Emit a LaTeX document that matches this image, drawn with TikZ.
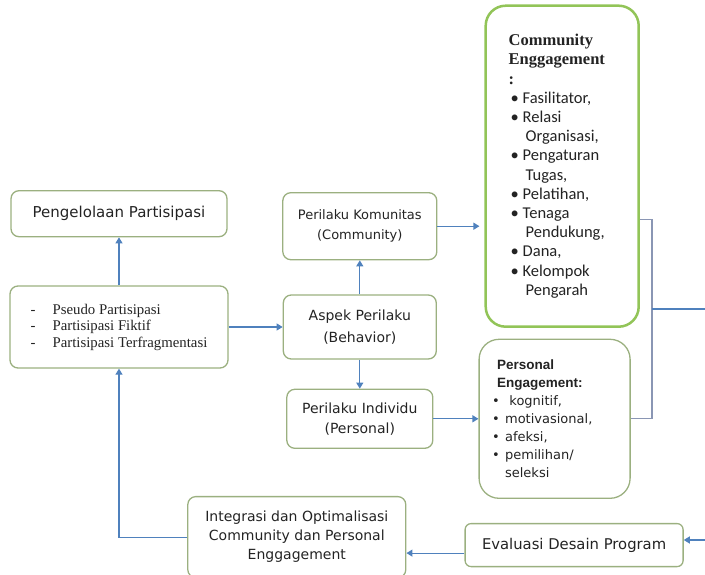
\documentclass[tikz,border=0pt]{standalone}
\usepackage{fontspec}
\setmainfont{DejaVu Sans}
\newfontfamily\serifface{Liberation Serif}
\newfontfamily\listface{Carlito}
\newfontfamily\boldsans{Liberation Sans}
\usepackage{xcolor}
\usetikzlibrary{positioning,arrows.meta}

\definecolor{boxline}{RGB}{155,176,128}
\definecolor{greenline}{RGB}{146,196,88}
\definecolor{arrowblue}{RGB}{79,129,189}
\definecolor{bracketgray}{RGB}{138,150,180}
\definecolor{textgray}{RGB}{35,35,35}

\newcommand{\dash}{\makebox[22pt][l]{-}}
\newcommand{\cbul}{\hspace*{2pt}\makebox[12pt][l]{\textbullet}}
\newcommand{\ccont}{\hspace*{17pt}}
\newcommand{\pbul}{\makebox[13pt][l]{\textbullet}}
\newcommand{\ctitle}[1]{{\serifface\bfseries\fontsize{16.5}{19.2}\selectfont #1}}
\newcommand{\ptitle}[1]{{\boldsans\bfseries\fontsize{13.5}{18}\selectfont #1}}

\begin{document}
\begin{tikzpicture}[
    x=1pt, y=-1pt,
    node distance=30pt,
    block/.style={rectangle, rounded corners=8pt, draw=boxline, line width=1.3pt, align=center, text=textgray, inner sep=4pt},
    arrow/.style={-{Triangle[length=6pt,width=7pt]}, draw=arrowblue, line width=1.2pt},
    link/.style={draw=bracketgray, line width=1.2pt}
]
    \useasboundingbox (0,0) rectangle (705,575);

    \node[block, minimum width=218pt, minimum height=82pt, align=left, font=\serifface\fontsize{14.8}{16.5}\selectfont] (pseudo) at (119,327) {\dash Pseudo Partisipasi\\\dash Partisipasi Fiktif\\\dash Partisipasi Terfragmentasi};
    \node[block, above=48pt of pseudo, minimum width=216pt, minimum height=46pt, font=\fontsize{15}{18}\selectfont] (pengelolaan) {Pengelolaan Partisipasi};
    \node[block, right=54pt of pseudo, minimum width=153pt, minimum height=64pt, font=\fontsize{14}{22}\selectfont] (aspek) {Aspek Perilaku\\(Behavior)};
    \node[block, above=34pt of aspek, minimum width=154pt, minimum height=67pt, font=\fontsize{13}{20}\selectfont] (komunitas) {Perilaku Komunitas\\(Community)};
    \node[block, below=29pt of aspek, minimum width=146pt, minimum height=59pt, font=\fontsize{14}{20}\selectfont] (individu) {Perilaku Individu\\(Personal)};
    \node[block, right=47pt of komunitas, yshift=60pt, draw=greenline, line width=2.5pt, rounded corners=20pt, minimum height=321pt, text width=107pt, inner xsep=23pt, align=left, font=\listface\fontsize{16.5}{19.2}\selectfont] (community) {\ctitle{Community}\\\ctitle{Enggagement}\\\ctitle{:}\\\cbul Fasilitator,\\\cbul Relasi\\\ccont Organisasi,\\\cbul Pengaturan\\\ccont Tugas,\\\cbul Pelatihan,\\\cbul Tenaga\\\ccont Pendukung,\\\cbul Dana,\\\cbul Kelompok\\\ccont Pengarah};
    \node[block, right=45pt of individu, rounded corners=20pt, minimum height=159pt, text width=125pt, inner xsep=13pt, align=left, font=\fontsize{13}{18}\selectfont] (personal) {\hspace*{5pt}\ptitle{Personal}\\\hspace*{5pt}\ptitle{Engagement:}\\\pbul\ kognitif,\\\pbul motivasional,\\\pbul afeksi,\\\pbul pemilihan/\\\hspace*{13pt}seleksi};
    \node[block, below=24pt of personal, xshift=19.5pt, rounded corners=6pt, minimum width=218pt, minimum height=43pt, font=\fontsize{14.8}{18}\selectfont] (evaluasi) {Evaluasi Desain Program};
    \node[block, left=58pt of evaluasi, yshift=8pt, minimum width=218pt, minimum height=81pt, font=\fontsize{14}{19}\selectfont] (integrasi) {Integrasi dan Optimalisasi\\Community dan Personal\\Enggagement};

    \coordinate (join) at (652,309);
    \coordinate (exit) at (705,309);
    \coordinate (feed) at (705,540);
    \coordinate (commout) at ([yshift=-53.5pt]community.east);
    \coordinate (evalout) at ([yshift=-8pt]evaluasi.west);

    \draw[arrow] (pseudo) -- (pengelolaan);
    \draw[arrow] (pseudo) -- (aspek);
    \draw[arrow] (aspek) -- (komunitas);
    \draw[arrow] (aspek) -- (individu);
    \draw[arrow, shorten >=5pt] (komunitas.east) -- (komunitas.east -| community.west);
    \draw[arrow] (individu) -- (personal);
    \draw[link] (commout) -| (join) |- (personal.east);
    \draw[link, draw=arrowblue] (join) -- (exit);
    \draw[arrow] (feed) -- (feed -| evaluasi.east);
    \draw[arrow] (evalout) -- (evalout -| integrasi.east);
    \draw[arrow] (integrasi.west) -| (pseudo.south);
\end{tikzpicture}
\end{document}
